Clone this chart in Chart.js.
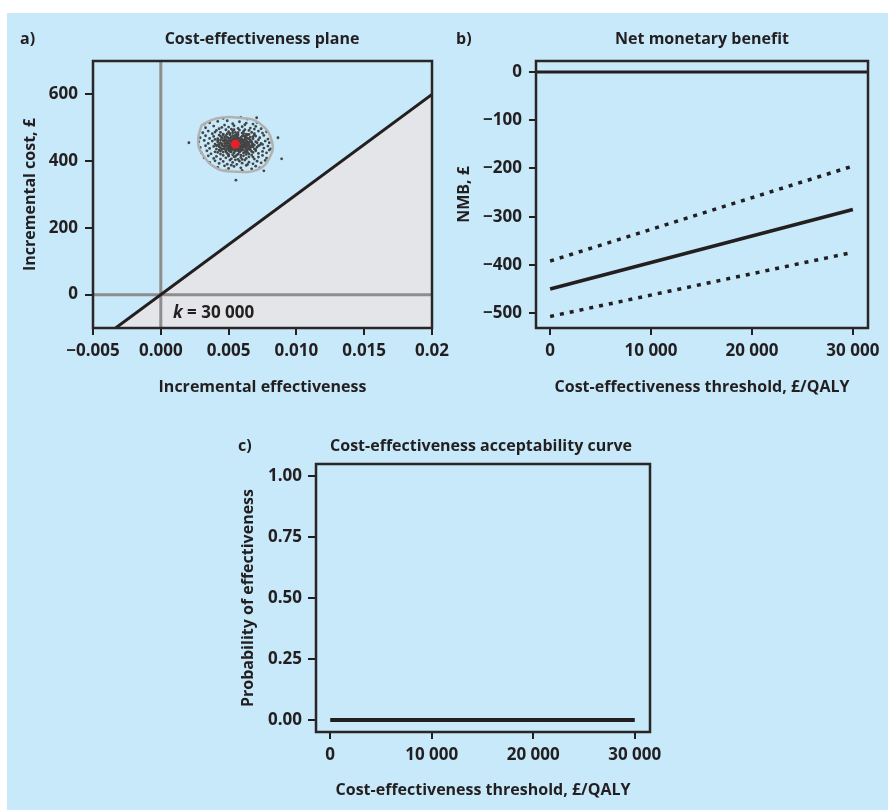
<!DOCTYPE html>
<html>
<head>
<meta charset="utf-8">
<script src="https://cdn.jsdelivr.net/npm/chart.js@4.4.0/dist/chart.umd.min.js"></script>
<style>
  html, body { margin: 0; padding: 0; }
  body { width: 888px; height: 810px; overflow: hidden; position: relative; background: #fff;
         font-family: 'Open Sans', 'Noto Sans', sans-serif; font-weight: bold; color: #231f20; }
  #bg { position: absolute; left: 7px; top: 13px; width: 881px; height: 797px; background: #c7e9f9; }
  canvas { position: absolute; }
  .lbl { position: absolute; font-size: 16px; line-height: 1; white-space: nowrap; transform: translateY(-50%); }
  .ttl { position: absolute; font-size: 16px; line-height: 1; white-space: nowrap; transform: translate(-50%, -50%); }
</style>
</head>
<body>
<div id="bg"></div>
<canvas id="planeChart" width="470" height="400" style="left:0;top:0"></canvas>
<canvas id="nmbChart" width="470" height="400" style="left:444px;top:0"></canvas>
<canvas id="ceacChart" width="460" height="410" style="left:220px;top:400px"></canvas>

<div class="lbl" style="left:20px;top:38px">a)</div>
<div class="ttl" style="left:262px;top:38px">Cost-effectiveness plane</div>
<div class="lbl" style="left:456px;top:38px">b)</div>
<div class="ttl" style="left:702px;top:38px">Net monetary benefit</div>
<div class="lbl" style="left:238px;top:445px">c)</div>
<div class="ttl" style="left:481px;top:445px">Cost-effectiveness acceptability curve</div>
<div class="lbl" style="left:173px;top:311px;font-size:17px"><i>k</i> = 30 000</div>

<script>
// ---- panel a: cost-effectiveness plane ----
const aXTicks = [-0.005, 0, 0.005, 0.01, 0.015, 0.02];
const aXLabels = ['\u22120.005', '0.000', '0.005', '0.010', '0.015', '0.02'];
const aYTicks = [0, 200, 400, 600];
const aYLabels = ['0', '200', '400', '600'];
const aXMin = -0.005, aXMax = 0.02, aYMin = -100, aYMax = 700;

// threshold line k = 30 000 (end points)
const kLineEff = [-0.00333, 0.02];
const kLineCost = [-100, 600];

// mean incremental effect / cost
const meanEff = 0.0055;
const meanCost = 451;

// confidence ellipse outline
const ellipseEff = [0.0030, 0.0041, 0.0058, 0.0073, 0.0082, 0.0080, 0.0071, 0.0053, 0.0041, 0.0031, 0.00275, 0.0030];
const ellipseCost = [508, 528, 530, 513, 459, 409, 374, 369, 379, 419, 459, 508];

// bootstrap replicates (effect, cost)
const cloud = [
  [0.0046,528],[0.0059,531],[0.0064,526],[0.00707,530],
  [0.0036,515],[0.0042,519],[0.0049,521],[0.0053,512],[0.0058,518],[0.0063,514],[0.0068,511],[0.0071,516],[0.0032,511],
  [0.0033,500],[0.0039,505],[0.0043,497],[0.0047,508],[0.0050,502],[0.0054,506],[0.0057,498],[0.0060,503],[0.0062,509],
  [0.0066,499],[0.0070,504],[0.0074,497],[0.0045,501],[0.0052,496],[0.0069,496],
  [0.0031,485],[0.0035,490],[0.0038,482],[0.0041,492],[0.0044,486],[0.0046,481],[0.0048,494],[0.0050,488],[0.0051,483],
  [0.0053,491],[0.0055,486],[0.0056,480],[0.0058,493],[0.0060,484],[0.0061,489],[0.0063,481],[0.0065,492],[0.0067,486],
  [0.0069,482],[0.0072,490],[0.0075,484],[0.0078,488],[0.0040,487],[0.0054,494],[0.0062,494],
  [0.0029,470],[0.0033,476],[0.0036,468],[0.0039,474],[0.0042,467],[0.0043,478],[0.0045,471],[0.0047,466],[0.0048,476],
  [0.0050,469],[0.0051,479],[0.0052,472],[0.0053,466],[0.0055,475],[0.0056,468],[0.0057,478],[0.0059,471],[0.0060,465],
  [0.0061,476],[0.0063,469],[0.0064,479],[0.0066,472],[0.0068,467],[0.0070,475],[0.0073,470],[0.0076,477],[0.0079,466],
  [0.00864,470],[0.0040,465],[0.0046,479],[0.0054,470],[0.0058,466],[0.0062,473],[0.0069,478],
  [0.0028,458],[0.0032,462],[0.0035,453],[0.0038,460],[0.0040,451],[0.0042,457],[0.0044,463],[0.0045,452],[0.0047,459],
  [0.0049,454],[0.0050,462],[0.0051,450],[0.0052,457],[0.0054,463],[0.0055,455],[0.0057,460],[0.0058,452],[0.0059,464],
  [0.0060,457],[0.0062,450],[0.0063,461],[0.0065,455],[0.0066,463],[0.0068,451],[0.0070,458],[0.0072,464],[0.0074,453],
  [0.0077,460],[0.0080,455],[0.00207,455],[0.0043,450],[0.0048,464],[0.0053,451],[0.0056,450],[0.0061,462],[0.0067,458],
  [0.0075,450],
  [0.0029,441],[0.0033,446],[0.0036,438],[0.0039,444],[0.0041,436],[0.0042,448],[0.0044,440],[0.0046,445],[0.0047,437],
  [0.0049,447],[0.0050,439],[0.0051,444],[0.0053,436],[0.0054,448],[0.0056,441],[0.0057,446],[0.0059,438],[0.0060,443],
  [0.0061,449],[0.0063,437],[0.0064,444],[0.0066,440],[0.0067,447],[0.0069,436],[0.0071,442],[0.0073,448],[0.0076,439],
  [0.0079,445],[0.0081,437],[0.0045,435],[0.0052,441],[0.0058,435],[0.0062,441],[0.0068,443],
  [0.0030,425],[0.0034,431],[0.0037,422],[0.0040,428],[0.0043,433],[0.0044,421],[0.0046,427],[0.0048,432],[0.0049,423],
  [0.0051,429],[0.0052,434],[0.0054,424],[0.0055,430],[0.0057,421],[0.0058,427],[0.0060,433],[0.0061,424],[0.0063,430],
  [0.0065,422],[0.0066,434],[0.0068,426],[0.0070,431],[0.0072,423],[0.0075,429],[0.0078,425],[0.0080,433],[0.0050,420],
  [0.0059,434],[0.0064,426],[0.0042,426],
  [0.0032,410],[0.0035,416],[0.0039,408],[0.0041,414],[0.0044,406],[0.0046,417],[0.0048,410],[0.0050,415],[0.0052,407],
  [0.0054,413],[0.0056,418],[0.0057,405],[0.0059,411],[0.0061,416],[0.0063,408],[0.0065,413],[0.0067,418],[0.0069,406],
  [0.0072,412],[0.0075,417],[0.0078,409],[0.00891,407],[0.0053,419],[0.0060,405],[0.0068,412],
  [0.0036,396],[0.0040,401],[0.0043,393],[0.0046,399],[0.0049,391],[0.0051,403],[0.0053,396],[0.0056,390],[0.0058,400],
  [0.0060,394],[0.0062,403],[0.0065,397],[0.0068,392],[0.0071,400],[0.0074,395],[0.0077,402],[0.0055,404],[0.0064,390],
  [0.0042,381],[0.0047,386],[0.0050,378],[0.0054,384],[0.0059,380],[0.0063,387],[0.0067,377],[0.0070,385],[0.0073,380],
  [0.0052,388],
  [0.00554,343],[0.0060,372],[0.0048,371],[0.0076,371],
  // dense core
  [0.0047,452],[0.0049,460],[0.0050,445],[0.0051,468],[0.0052,438],[0.0052,463],[0.0053,455],[0.0053,476],[0.0054,443],
  [0.0054,458],[0.0055,466],[0.0055,437],[0.0056,457],[0.0056,472],[0.0057,449],[0.0057,431],[0.0058,461],[0.0058,444],
  [0.0059,455],[0.0059,468],[0.0060,448],[0.0060,437],[0.0061,458],[0.0061,442],[0.0062,466],[0.0062,454],[0.0063,446],
  [0.0063,475],[0.0064,458],[0.0064,434],[0.0065,449],[0.0065,467],[0.0066,443],[0.0067,455],[0.0046,461],[0.0046,437],
  [0.0045,447],[0.0045,468],[0.0044,455],[0.0044,430],[0.0048,428],[0.0048,445],[0.0049,471],[0.0050,432],[0.0050,454],
  [0.0051,437],[0.0051,460],[0.0052,449],[0.0052,427],[0.0053,443],[0.0053,462],[0.0054,432],[0.0054,452],[0.0055,445],
  [0.0055,461],[0.0055,478],[0.0056,434],[0.0056,464],[0.0057,440],[0.0057,470],[0.0058,428],[0.0058,456],[0.0059,446],
  [0.0059,431],[0.0060,462],[0.0060,475],[0.0061,451],[0.0061,433],[0.0062,445],[0.0062,427],[0.0063,455],[0.0063,439],
  [0.0064,468],[0.0064,450],[0.0065,438],[0.0066,460],[0.0067,444],[0.0047,443],[0.0047,472],[0.0048,453],[0.0049,438],
  [0.0049,482],[0.0053,484],[0.0057,485],[0.0061,482],[0.0065,480],[0.0050,416],[0.0055,414],[0.0059,418],[0.0063,420],
  [0.0067,429],[0.0069,448],[0.0071,455],[0.0043,443],[0.0042,462],[0.0041,446],[0.0070,437],[0.0072,446],[0.0044,475],
  [0.0068,473]
];

// ---- panel b: net monetary benefit ----
const thresholds = [0, 30000];
const nmbMean = [-450, -285];
const nmbUpper = [-392, -195];
const nmbLower = [-507, -374];
const thresholdTicks = [0, 10000, 20000, 30000];
const thresholdLabels = ['0', '10 000', '20 000', '30 000'];
const nmbTicks = [-500, -400, -300, -200, -100, 0];
const nmbLabels = ['\u2212500', '\u2212400', '\u2212300', '\u2212200', '\u2212100', '0'];
const bXMin = -1400, bXMax = 31500, bYMin = -531, bYMax = 23;

// ---- panel c: acceptability curve ----
const probEffective = [0, 0];
const probTicks = [0, 0.25, 0.5, 0.75, 1];
const probLabels = ['0.00', '0.25', '0.50', '0.75', '1.00'];
const cYMin = -0.049, cYMax = 1.049;

const ink = '#231f20';
const fontFam = "'Open Sans', 'Noto Sans', sans-serif";
const tickFont = { family: fontFam, size: 17, weight: 'bold' };
const titleFont = { family: fontFam, size: 16, weight: 'bold' };

function pts(xs, ys) {
  return xs.map(function (x, i) { return { x: x, y: ys[i] }; });
}

function axis(min, max, ticks, labels, title, o) {
  return {
    type: 'linear',
    position: o.pos,
    min: min,
    max: max,
    afterBuildTicks: function (s) { s.ticks = ticks.map(function (v) { return { value: v }; }); },
    afterFit: function (s) {
      if (o.w) s.width = o.w;
      if (o.h) s.height = o.h;
    },
    ticks: {
      callback: function (v, i) { return labels[i]; },
      color: ink, font: tickFont, padding: o.pad, autoSkip: false, maxRotation: 0
    },
    grid: { display: true, drawOnChartArea: false, drawTicks: true, tickLength: o.tl, color: ink, lineWidth: 2 },
    border: { display: false },
    title: { display: true, text: title, color: ink, font: titleFont, padding: o.tpad }
  };
}

const framePlugin = {
  id: 'frame',
  afterDatasetsDraw: function (chart) {
    const a = chart.chartArea;
    const ctx = chart.ctx;
    ctx.save();
    ctx.strokeStyle = '#2a2627';
    ctx.lineWidth = 2.5;
    ctx.strokeRect(a.left, a.top, a.right - a.left, a.bottom - a.top);
    ctx.restore();
  }
};

function baseOptions(padding, xAxis, yAxis) {
  return {
    responsive: false,
    animation: false,
    layout: { padding: padding },
    plugins: { legend: { display: false }, tooltip: { enabled: false } },
    scales: { x: xAxis, y: yAxis }
  };
}

// a) cost-effectiveness plane
new Chart(document.getElementById('planeChart'), {
  type: 'scatter',
  data: {
    datasets: [
      { data: [{ x: meanEff, y: meanCost }], pointRadius: 4.5, backgroundColor: '#e8202a', borderWidth: 0, order: 0 },
      { data: pts(ellipseEff, ellipseCost), showLine: true, tension: 0.45, borderColor: '#b1b1b1', borderWidth: 2.5, pointRadius: 0, order: 1 },
      { data: cloud.map(function (p) { return { x: p[0], y: p[1] }; }), pointRadius: 1.4, backgroundColor: '#444444', borderWidth: 0, order: 2 },
      { data: pts(kLineEff, kLineCost), showLine: true, borderColor: ink, borderWidth: 3, pointRadius: 0, order: 3 },
      { data: pts([aXMin, aXMax], [0, 0]), showLine: true, borderColor: '#8d8d8d', borderWidth: 3, pointRadius: 0, order: 4 },
      { data: pts([0, 0], [aYMin, aYMax]), showLine: true, borderColor: '#8d8d8d', borderWidth: 3, pointRadius: 0, order: 4 },
      { data: pts(kLineEff, kLineCost), showLine: true, fill: 'start', backgroundColor: '#e4e5e8', borderWidth: 0, pointRadius: 0, order: 5 }
    ]
  },
  options: baseOptions({ top: 61, right: 38, left: 0, bottom: 0 },
    axis(aXMin, aXMax, aXTicks, aXLabels, 'Incremental effectiveness',
      { pos: 'bottom', h: 72, pad: 6, tl: 7, tpad: { top: 0, bottom: 2.9 } }),
    axis(aYMin, aYMax, aYTicks, aYLabels, 'Incremental cost, \u00a3',
      { pos: 'left', w: 93, pad: 7, tl: 8, tpad: { top: 20.4, bottom: 0 } })),
  plugins: [framePlugin]
});

// b) net monetary benefit
new Chart(document.getElementById('nmbChart'), {
  type: 'scatter',
  data: {
    datasets: [
      { data: pts([bXMin, bXMax], [0, 0]), showLine: true, borderColor: ink, borderWidth: 3, pointRadius: 0 },
      { data: pts(thresholds, nmbMean), showLine: true, borderColor: ink, borderWidth: 3.5, pointRadius: 0 },
      { data: pts(thresholds, nmbUpper), showLine: true, borderColor: ink, borderWidth: 3.5, borderDash: [4, 6], pointRadius: 0 },
      { data: pts(thresholds, nmbLower), showLine: true, borderColor: ink, borderWidth: 3.5, borderDash: [4, 6], pointRadius: 0 }
    ]
  },
  options: baseOptions({ top: 61, right: 46, left: 0, bottom: 0 },
    axis(bXMin, bXMax, thresholdTicks, thresholdLabels, 'Cost-effectiveness threshold, \u00a3/QALY',
      { pos: 'bottom', h: 72, pad: 6, tl: 7, tpad: { top: 0, bottom: 2.9 } }),
    axis(bYMin, bYMax, nmbTicks, nmbLabels, 'NMB, \u00a3',
      { pos: 'left', w: 92, pad: 7, tl: 7, tpad: { top: 11.1, bottom: 0 } })),
  plugins: [framePlugin]
});

// c) cost-effectiveness acceptability curve
new Chart(document.getElementById('ceacChart'), {
  type: 'scatter',
  data: {
    datasets: [
      { data: pts(thresholds, probEffective), showLine: true, borderColor: ink, borderWidth: 4, pointRadius: 0 }
    ]
  },
  options: baseOptions({ top: 64, right: 30, left: 0, bottom: 0 },
    axis(bXMin, bXMax, thresholdTicks, thresholdLabels, 'Cost-effectiveness threshold, \u00a3/QALY',
      { pos: 'bottom', h: 78, pad: 6, tl: 7, tpad: { top: 0, bottom: 10.4 } }),
    axis(cYMin, cYMax, probTicks, probLabels, 'Probability of effectiveness',
      { pos: 'left', w: 96, pad: 6, tl: 8, tpad: { top: 18.4, bottom: 0 } })),
  plugins: [framePlugin]
});
</script>
</body>
</html>
